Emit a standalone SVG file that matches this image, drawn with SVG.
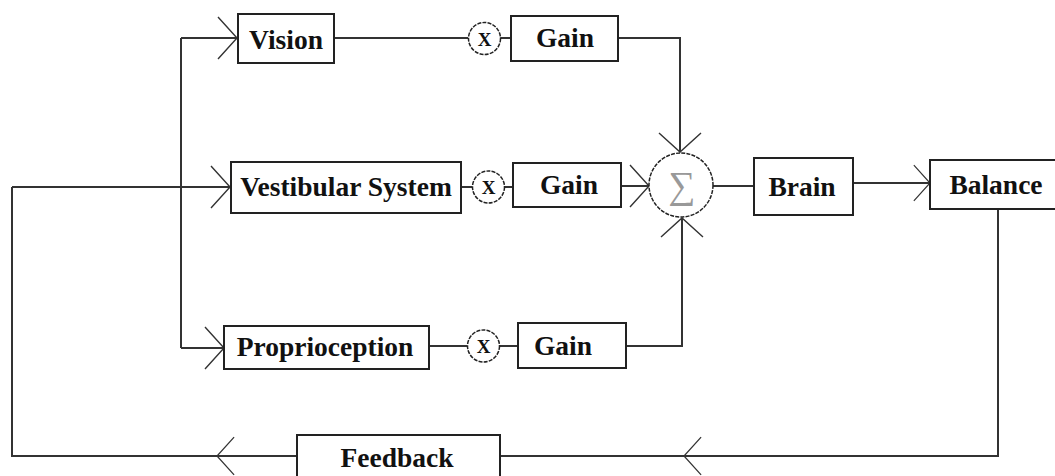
<svg xmlns="http://www.w3.org/2000/svg" width="1055" height="476" viewBox="0 0 1055 476">
<style>
.box{fill:#fff;stroke:#222;stroke-width:2}
.lbl{font-family:"Liberation Serif","Times New Roman",serif;font-weight:bold;font-size:27.5px;fill:#111;text-anchor:middle}
.mul{fill:#fff;stroke:#222;stroke-width:1.5;stroke-dasharray:4 1.2}
.x{font-family:"Liberation Serif","Times New Roman",serif;font-weight:bold;font-size:19px;fill:#111;text-anchor:middle}
.wire{fill:none;stroke:#333;stroke-width:2}
.head{fill:none;stroke:#333;stroke-width:1.4}
</style>
<defs>
<path id="ah" class="head" d="M-19,-21 L0,0 L-19,21"/>
</defs>
<rect width="1055" height="476" fill="#fff"/>
<g id="connectors">
<path class="wire" d="M181,38 L181,348 M181,38 L238,38 M181,348 L224,348"/>
<path class="wire" d="M12,187 L230,187 M12,187 L12,456 L297,456 M500,456 L998,456 L998,209"/>
<path class="wire" d="M334,38 L468,38 M500,38 L511,38 M618,38 L680,38 L680,152"/>
<path class="wire" d="M461,187 L472,187 M504,187 L513,187 M621,186 L649,186"/>
<path class="wire" d="M429,346 L467,346 M499,346 L518,346 M626,346 L682,346 L682,218"/>
<path class="wire" d="M713,186 L754,186 M853,183 L930,183"/>
<use href="#ah" transform="translate(237,38)"/>
<use href="#ah" transform="translate(230,187)"/>
<use href="#ah" transform="translate(224,348)"/>
<use href="#ah" transform="translate(680,152) rotate(90)"/>
<use href="#ah" transform="translate(649,186)"/>
<use href="#ah" transform="translate(682,218) rotate(-90)"/>
<use href="#ah" transform="translate(930,183) scale(0.85)"/>
<use href="#ah" transform="translate(684,456) rotate(180) scale(0.9)"/>
<use href="#ah" transform="translate(217,456) rotate(180) scale(0.9)"/>
</g>
<g id="vision"><rect class="box" x="238" y="14" width="96" height="49"/><text class="lbl" x="286" y="49">Vision</text></g>
<g id="vestibular"><rect class="box" x="231" y="162" width="230" height="51"/><text class="lbl" x="346" y="196">Vestibular System</text></g>
<g id="proprioception"><rect class="box" x="224" y="326" width="205" height="43"/><text class="lbl" x="325" y="356">Proprioception</text></g>
<g id="mul1"><circle class="mul" cx="484.5" cy="38.5" r="16"/><text class="x" x="484.5" y="45.5">X</text></g>
<g id="mul2"><circle class="mul" cx="488.5" cy="187" r="16"/><text class="x" x="488.5" y="194">X</text></g>
<g id="mul3"><circle class="mul" cx="483.5" cy="346" r="16"/><text class="x" x="483.5" y="353">X</text></g>
<g id="gain1"><rect class="box" x="511" y="16" width="107" height="45"/><text class="lbl" x="565" y="47">Gain</text></g>
<g id="gain2"><rect class="box" x="513" y="163" width="108" height="44"/><text class="lbl" x="569" y="194">Gain</text></g>
<g id="gain3"><rect class="box" x="518" y="323" width="108" height="45"/><text class="lbl" x="563" y="355">Gain</text></g>
<g id="sum"><circle class="mul" cx="681" cy="185" r="32"/><text x="682" y="198" font-family="'Liberation Serif','DejaVu Serif',serif" font-size="38" fill="#999" text-anchor="middle">∑</text></g>
<g id="brain"><rect class="box" x="754" y="158" width="99" height="57"/><text class="lbl" x="802" y="196">Brain</text></g>
<g id="balance"><rect class="box" x="930" y="160" width="140" height="49"/><text class="lbl" x="996" y="194">Balance</text></g>
<g id="feedback"><rect class="box" x="297" y="435" width="203" height="50"/><text class="lbl" x="397" y="467">Feedback</text></g>
</svg>
